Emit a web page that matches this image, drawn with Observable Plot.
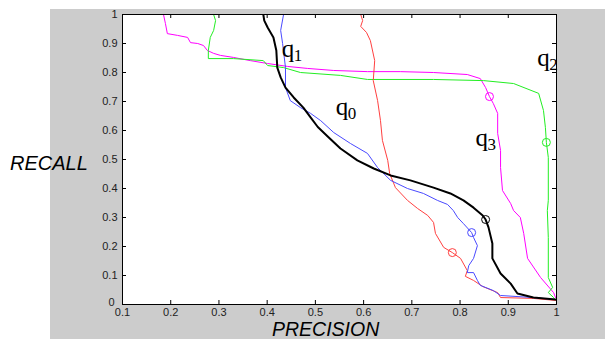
<!DOCTYPE html>
<html>
<head>
<meta charset="utf-8">
<script src="https://cdn.jsdelivr.net/npm/d3@7"></script>
<script src="https://cdn.jsdelivr.net/npm/@observablehq/plot@0.6"></script>
<style>
  body { margin: 0; background: white; }
  #wrap { position: relative; width: 605px; height: 339px; background: white; overflow: hidden; }
  #bg { position: absolute; left: 50px; top: 9px; width: 555px; height: 330px; background: #cccccc; }
  #chart { position: absolute; left: 0; top: 0; }
  .lab { position: absolute; font-family: "Liberation Sans", Arial, sans-serif; font-style: italic; font-size: 20px; line-height: 17px; color: #000; white-space: nowrap; }
</style>
</head>
<body>
<div id="wrap">
  <div id="bg"></div>
  <div id="chart"></div>
  <div class="lab" style="left:10px;top:155px">RECALL</div>
  <div class="lab" style="left:272px;top:321px;font-size:19.5px;line-height:16px">PRECISION</div>
</div>
<script>
// Ticks
const xTicks = [0.1, 0.2, 0.3, 0.4, 0.5, 0.6, 0.7, 0.8, 0.9, 1];
const yTicks = [0, 0.1, 0.2, 0.3, 0.4, 0.5, 0.6, 0.7, 0.8, 0.9, 1];

// Curves: [precision, recall]
const q0Red = [
  [0.594,1.000],[0.598,0.979],[0.594,0.959],[0.606,0.938],[0.614,0.910],[0.623,0.841],
  [0.620,0.772],[0.629,0.703],[0.635,0.634],[0.639,0.566],[0.650,0.497],[0.654,0.452],
  [0.666,0.403],[0.691,0.359],[0.712,0.331],[0.733,0.307],[0.745,0.283],[0.749,0.245],
  [0.766,0.197],[0.784,0.179],[0.801,0.159],[0.815,0.117],[0.811,0.097],[0.828,0.083],
  [0.847,0.062],[0.878,0.041],[0.884,0.024],[0.952,0.021],[0.998,0.014]
];
const q1Blue = [
  [0.434,1.000],[0.428,0.945],[0.432,0.900],[0.438,0.817],[0.438,0.748],[0.448,0.703],
  [0.469,0.679],[0.490,0.659],[0.511,0.634],[0.538,0.593],[0.573,0.555],[0.608,0.521],
  [0.629,0.472],[0.656,0.428],[0.691,0.400],[0.724,0.383],[0.753,0.359],[0.774,0.345],
  [0.786,0.324],[0.795,0.300],[0.807,0.279],[0.824,0.248],[0.828,0.231],[0.836,0.203],
  [0.828,0.159],[0.818,0.134],[0.815,0.110],[0.828,0.110],[0.836,0.083],[0.842,0.066],
  [0.869,0.048],[0.884,0.031],[0.952,0.024],[0.998,0.017]
];
const combinedBlack = [
  [0.392,1.000],[0.394,0.979],[0.401,0.955],[0.413,0.921],[0.419,0.876],[0.421,0.817],
  [0.428,0.783],[0.438,0.748],[0.455,0.714],[0.475,0.679],[0.490,0.645],[0.505,0.612],
  [0.525,0.580],[0.552,0.538],[0.587,0.497],[0.621,0.469],[0.656,0.445],[0.697,0.428],
  [0.745,0.403],[0.780,0.383],[0.807,0.359],[0.828,0.334],[0.847,0.307],[0.853,0.293],
  [0.859,0.266],[0.867,0.210],[0.867,0.159],[0.884,0.107],[0.905,0.072],[0.919,0.038],
  [0.952,0.024],[0.998,0.017]
];
const q3Magenta = [
  [0.164,1.000],[0.185,1.000],[0.189,0.969],[0.193,0.934],[0.214,0.928],[0.235,0.921],
  [0.241,0.903],[0.256,0.900],[0.268,0.893],[0.276,0.876],[0.289,0.866],[0.303,0.859],
  [0.330,0.852],[0.365,0.841],[0.401,0.831],[0.442,0.821],[0.484,0.814],[0.538,0.807],
  [0.608,0.803],[0.676,0.803],[0.745,0.800],[0.815,0.793],[0.842,0.779],[0.853,0.748],
  [0.861,0.717],[0.869,0.693],[0.878,0.659],[0.878,0.590],[0.884,0.531],[0.884,0.472],
  [0.888,0.393],[0.905,0.348],[0.911,0.324],[0.925,0.300],[0.932,0.245],[0.940,0.159],
  [0.967,0.093],[0.994,0.041],[0.998,0.024]
];
const q2Green = [
  [0.241,1.000],[0.289,1.000],[0.293,0.979],[0.289,0.945],[0.282,0.921],[0.278,0.876],
  [0.278,0.848],[0.330,0.848],[0.392,0.841],[0.401,0.824],[0.434,0.817],[0.469,0.800],
  [0.552,0.790],[0.608,0.776],[0.745,0.776],[0.849,0.772],[0.911,0.762],[0.963,0.728],
  [0.973,0.669],[0.977,0.610],[0.979,0.559],[0.983,0.507],[0.983,0.359],[0.981,0.324],
  [0.983,0.231],[0.983,0.093],[0.992,0.059],[0.983,0.041],[0.994,0.024],[0.998,0.014]
];

// Marked operating points
const markers = [
  {x:0.784, y:0.179, c:"#ff4040"},
  {x:0.824, y:0.248, c:"#4a4aff"},
  {x:0.853, y:0.293, c:"#000000"},
  {x:0.861, y:0.717, c:"#ff00ff"},
  {x:0.979, y:0.559, c:"#22ee22"}
];

// Curve labels
const labels = [
  {x:0.542, y:0.652, s:"0"},
  {x:0.430, y:0.852, s:"1"},
  {x:0.960, y:0.821, s:"2"},
  {x:0.832, y:0.545, s:"3"}
];

const fmt = d => (d === 0 || d === 1) ? String(d) : d.toFixed(1);
const line = (data, color, w) => Plot.line(data, {x: d => d[0], y: d => d[1], stroke: color, strokeWidth: w, clip: true});

const W = 605, H = 339, mL = 122, mR = 49, mT = 14, mB = 35;
const fw = W - mL - mR, fh = H - mT - mB, tk = 4;

const chart = Plot.plot({
  width: W, height: H,
  marginLeft: mL, marginRight: mR, marginTop: mT, marginBottom: mB,
  style: {background: "transparent", fontFamily: "'Liberation Sans', Arial, sans-serif", fontSize: "11px", color: "#222"},
  x: {domain: [0.1, 1]},
  y: {domain: [0, 1]},
  marks: [
    Plot.frame({fill: "white"}),
    Plot.axisX({ticks: xTicks, anchor: "bottom", tickSize: 0, tickPadding: 4, tickFormat: fmt, label: null}),
    Plot.axisY({ticks: yTicks.filter(d => d > 0), anchor: "left", tickSize: 0, tickPadding: 5, tickFormat: fmt, label: null}),
    Plot.axisY({ticks: yTicks.filter(d => d === 0), anchor: "left", tickSize: 0, tickPadding: 8, dy: -2, tickFormat: fmt, label: null}),
    // inside ticks on all four sides
    Plot.tickX(xTicks, {x: d => d, insetTop: fh - tk, stroke: "#000"}),
    Plot.tickX(xTicks, {x: d => d, insetBottom: fh - tk, stroke: "#000"}),
    Plot.tickY(yTicks, {y: d => d, insetRight: fw - tk, stroke: "#000"}),
    Plot.tickY(yTicks, {y: d => d, insetLeft: fw - tk, stroke: "#000"}),
    line(q3Magenta, "#ff00ff", 1),
    line(q2Green, "#22ee22", 1),
    line(q0Red, "#ff4040", 1),
    line(q1Blue, "#4a4aff", 1),
    line(combinedBlack, "#000000", 2),
    Plot.dot(markers, {x: "x", y: "y", r: 4, stroke: "c", fill: "none", strokeWidth: 1}),
    Plot.text(labels, {x: "x", y: "y", text: () => "q", textAnchor: "start", lineAnchor: "bottom", fontFamily: "'Liberation Serif', 'Times New Roman', serif", fontSize: 25, fill: "#000"}),
    Plot.text(labels, {x: "x", y: "y", text: "s", dx: 12, dy: 4, textAnchor: "start", lineAnchor: "bottom", fontFamily: "'Liberation Serif', 'Times New Roman', serif", fontSize: 17, fill: "#000"}),
    Plot.frame({stroke: "#000", strokeWidth: 1})
  ]
});
document.getElementById("chart").appendChild(chart);
</script>
</body>
</html>
